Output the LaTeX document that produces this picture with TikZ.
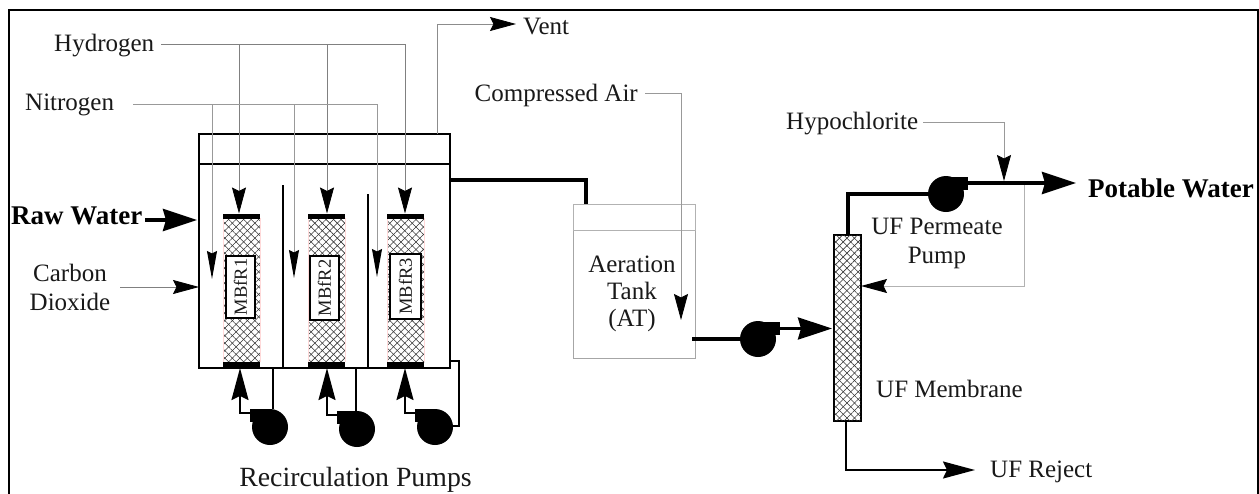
\documentclass[tikz,border=0pt]{standalone}
\usepackage{fontspec}
\setmainfont{Liberation Serif}
\usetikzlibrary{arrows.meta,patterns.meta,calc}
\tikzset{
  x=1pt,y=-1pt,
  lbl/.style={font=\fontsize{25}{27}\selectfont,text=black!90,inner sep=0pt,align=center},
  lbltall/.style={font=\fontsize{25}{29}\selectfont,text=black!90,inner sep=0pt,align=center},
  blbl/.style={font=\fontsize{27}{27}\selectfont\bfseries,inner sep=0pt},
  gasline/.style={draw=black!50,line width=0.8pt},
  nitroline/.style={draw=black!40,line width=1pt},
  lightline/.style={draw=black!30,line width=1pt},
  wall/.style={draw=black,line width=1.8pt},
  pipe/.style={draw=black,line width=3.2pt},
  thick pipe/.style={draw=black,line width=3.8pt},
  tipS/.style={-{Stealth[length=26pt,width=14pt,inset=3.5pt,color=black]}},
  tipN/.style={-{Stealth[length=28pt,width=10pt,inset=2.5pt,color=black]}},
  tipM/.style={-{Stealth[length=32pt,width=17pt,inset=4pt,color=black]}},
  tipL/.style={-{Stealth[length=34pt,width=22pt,inset=3pt,color=black]}},
  box/.style={rectangle,inner sep=0pt,outer sep=0pt,anchor=north west},
  hatched/.style={box,pattern={Lines[angle=45,distance=5.3pt,line width=0.55pt]},pattern color=black!80},
  hatchedb/.style={hatched,postaction={pattern={Lines[angle=-45,distance=5.3pt,line width=0.55pt]},pattern color=black!80}},
  bar/.style={rectangle,fill=black,inner sep=0pt,outer sep=0pt,minimum height=5pt,minimum width=37pt},
  pumpbody/.style={circle,fill=black,inner sep=0pt,outer sep=0pt,minimum size=36pt},
  pumpout/.style={rectangle,fill=black,inner sep=0pt,outer sep=0pt,minimum width=21pt,minimum height=13pt},
  tag/.style={rectangle,draw=black,line width=1.8pt,fill=white,inner sep=0pt,outer sep=0pt,minimum width=29pt,minimum height=62pt},
  taglbl/.style={font=\fontsize{18.5}{19}\selectfont,rotate=90,inner sep=0pt,text=black!90},
}
\begin{document}
\begin{tikzpicture}
\useasboundingbox (0,0) rectangle (1259,493);
\fill[white] (0,0) rectangle (1259,493);
% frame
\coordinate (fa) at (9,494); \coordinate (fb) at (9,10); \coordinate (fc) at (1258,10); \coordinate (fd) at (1258,494);
\draw[black,line width=1.8pt] (fa) -- (fb) -- (fc) -- (fd);

% bioreactor
\node[box,wall,minimum width=251pt,minimum height=234pt] (reactor) at (199,134) {};
\node[box,wall,line width=1.4pt,minimum width=251pt,minimum height=30pt] (lid) at (199,134) {};
\coordinate (d1t) at (283,185); \coordinate (d1b) at (283,368);
\coordinate (d2t) at (368,194); \coordinate (d2b) at (368,368);
\draw[wall] (d1t) -- (d1b);
\draw[wall] (d2t) -- (d2b);

% media columns
\foreach \n/\x in {1/223,2/308,3/387}{
  \node[hatchedb,minimum width=37pt,minimum height=144pt] (col\n) at (\x,218) {};
  \draw[red!15,line width=0.8pt] (col\n.north west) -- (col\n.south west);
  \draw[red!15,line width=0.8pt] (col\n.north east) -- (col\n.south east);
  \node[bar] (top\n) at ($(col\n.north)+(0,-2)$) {};
  \node[bar] (bot\n) at ($(col\n.south)+(0,2)$) {};
}
\node[tag] (tag1) at (240.5,287) {}; \node[taglbl] (tl1) at (tag1) {MBfR1};
\node[tag,minimum height=64pt] (tag2) at (324.5,288) {}; \node[taglbl] (tl2) at (tag2) {MBfR2};
\node[tag,minimum width=31pt,minimum height=65pt] (tag3) at (405.5,286.5) {}; \node[taglbl] (tl3) at (tag3) {MBfR3};

% hydrogen
\node[lbl,anchor=west] (h2) at (54,46) {Hydrogen};
\coordinate (hs) at (161,44); \coordinate (hj1) at (239,44); \coordinate (hj2) at (327,44); \coordinate (hj3) at (405,44);
\draw[gasline] (hs) -- (hj3);
\draw[gasline,tipS] (hj1) -- (hj1 |- top1.north);
\draw[gasline,tipS] (hj2) -- (hj2 |- top2.north);
\draw[gasline,tipS] (hj3) -- (hj3 |- top3.north);

% nitrogen
\node[lbl,anchor=west] (n2) at (25,105) {Nitrogen};
\coordinate (ns) at (133,104); \coordinate (nj1) at (212,104); \coordinate (nj2) at (294,104); \coordinate (nj3) at (377,104);
\coordinate (ne1) at (212,279); \coordinate (ne2) at (294,278); \coordinate (ne3) at (377,277);
\draw[nitroline] (ns) -- (nj3);
\draw[nitroline,tipN] (nj1) -- (ne1);
\draw[nitroline,tipN] (nj2) -- (ne2);
\draw[nitroline,tipN] (nj3) -- (ne3);

% vent
\node[lbl,anchor=west] (vent) at (523,27) {Vent};
\coordinate (vb) at ($(reactor.north west)+(238,0)$); \coordinate (vt) at (437,24); \coordinate (ve) at (516,24);
\draw[lightline,line width=0.8pt,draw=black!45,tipS] (vb) -- (vt) -- (ve);

% raw water
\node[blbl,anchor=west] (raw) at (11,216) {Raw Water};
\coordinate (rs) at (145,220); \coordinate (re) at (197,220);
\draw[thick pipe,tipL] (rs) -- (re);

% carbon dioxide
\node[lbltall,anchor=center] (co2) at (70,287) {Carbon\\Dioxide};
\coordinate (cs) at (120,287);
\draw[gasline,tipS] (cs) -- (reactor.west |- cs);

% recirculation pumps
\foreach \n/\px/\py/\ax in {1/270/427/240,2/357/429/327,3/435/427/405}{
  \node[pumpbody] (pb\n) at (\px,\py) {};
  \node[pumpout,anchor=north east] (po\n) at ($(\px,\py)+(1,-18)$) {};
  \coordinate (pc\n) at (\ax,\py-14);
  \coordinate (pa\n) at (\ax,368);
  \draw[wall,tipM] (po\n.west |- pc\n) -- (pc\n) -- (pa\n);
}
\coordinate (rr1) at (273,368); \coordinate (rr2) at (356,368);
\draw[wall] (rr1) -- (rr1 |- po1.north);
\draw[wall] (rr2) -- (rr2 |- po2.north);
\coordinate (rr3a) at (450,361); \coordinate (rr3b) at (459,361); \coordinate (rr3c) at (459,426);
\draw[wall] (rr3a) -- (rr3b) -- (rr3c) -- (pb3.east |- rr3c);
\node[lbl,font=\fontsize{27.8}{28}\selectfont] (recirc) at (355.5,480) {Recirculation Pumps};

% aeration tank
\node[box,draw=black!35,line width=1pt,minimum width=122pt,minimum height=154pt] (tank) at (573,204) {};
\node[box,draw=black!30,line width=0.8pt,minimum width=122pt,minimum height=26pt] (tanklid) at (573,204) {};
\node[lbl] (tanktxt) at (632,294) {Aeration\\Tank\\(AT)};
\coordinate (p1a) at (450,180); \coordinate (p1b) at (586,180); 
\draw[thick pipe] (p1a) -- (p1b) -- (p1b |- tank.north);

% compressed air
\node[lbl,anchor=east] (air) at (638,95) {Compressed Air};
\coordinate (as) at (645,93); \coordinate (ac) at (681,93); \coordinate (ae) at (681,320);
\draw[lightline,draw=black!40,line width=0.8pt,tipS] (as) -- (ac) -- (ae);

% feed pump
\node[pumpbody] (fp) at (758,339) {};
\node[pumpout,anchor=north west] (fpo) at (759,322) {};
\coordinate (fs) at (692,339);
\draw[thick pipe] (fs) -- (fp);
\coordinate (fm) at (805,328.5);
\draw[pipe] (fpo.east) -- (fm);
\coordinate (fe) at (832,328.5);

% membrane
\node[box,draw=black,line width=1.6pt,minimum width=27pt,minimum height=186pt] (mem) at (834,235) {};
\node[hatchedb,minimum width=26pt,minimum height=185pt] (memh) at (834.5,235.5) {};
\draw[pipe,tipL] (fm) -- (fe);
\node[lbl,anchor=west] (memtxt) at (876,389) {UF Membrane};

% permeate
\node[pumpbody] (pp) at (946,194) {};
\node[pumpout,anchor=north west] (ppo) at (947,177) {};
\coordinate (pc) at (848,194);
\draw[thick pipe] (pc |- mem.north) -- (pc) -- (pp);
\coordinate (ps) at (967,183); \coordinate (pe) at (1076,183);
\draw[thick pipe,tipL] (ps) -- (pe);
\node[blbl,anchor=west] (pot) at (1088,188) {Potable Water};
\node[lbltall] (pptxt) at (937,243) {UF Permeate\\Pump};

% hypochlorite
\node[lbl,anchor=west] (hyp) at (786,124) {Hypochlorite};
\coordinate (hs2) at (923,122); \coordinate (hc2) at (1004,122); \coordinate (he2) at (1004,181);
\draw[lightline,draw=black!40,line width=0.8pt,tipS] (hs2) -- (hc2) -- (he2);

% permeate recycle
\coordinate (rc0) at (1024,185); \coordinate (rc1) at (1024,286);
\draw[lightline,tipS] (rc0) -- (rc1) -- (mem.east |- rc1);

% reject
\coordinate (rj) at (846,470); \coordinate (rje) at (975,470);
\draw[wall,tipM] (rj |- mem.south) -- (rj) -- (rje);
\node[lbl,anchor=west] (rjtxt) at (990,472) {UF Reject};
\end{tikzpicture}
\end{document}
